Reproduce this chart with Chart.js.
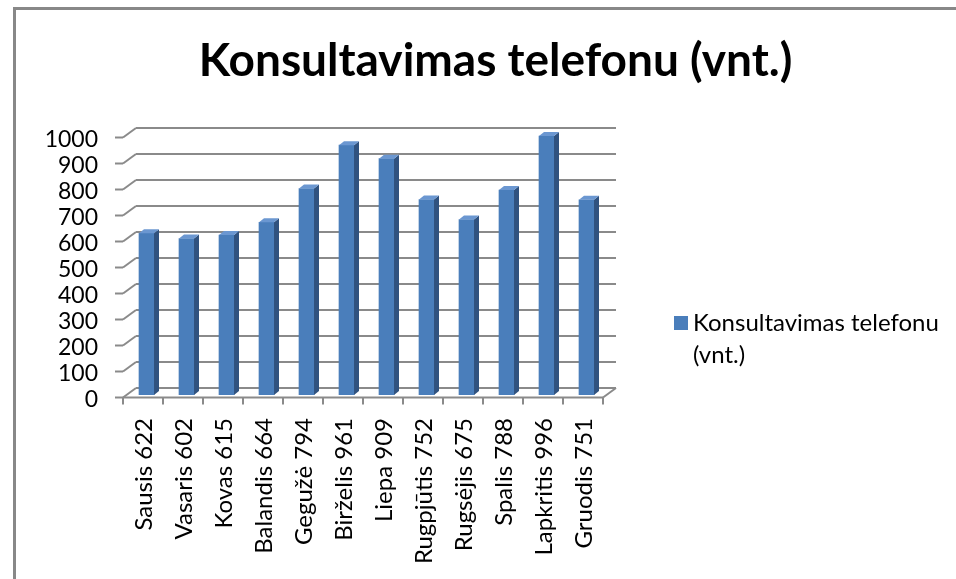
<!DOCTYPE html>
<html>
<head>
<meta charset="utf-8">
<script src="https://cdn.jsdelivr.net/npm/chart.js@4.4.1/dist/chart.umd.min.js"></script>
<style>
  html, body { margin: 0; padding: 0; background: #fff; }
  #wrap { position: relative; width: 956px; height: 579px; overflow: hidden; }
  #frame { position: absolute; left: 13px; top: 7px; right: -10px; bottom: -10px;
           border-left: 3px solid #888; border-top: 3px solid #888; }
  canvas { position: absolute; left: 0; top: 0; }
  #legend { position: absolute; left: 674px; top: 306px; font-family: Lato, sans-serif;
            font-size: 24px; line-height: 32px; color: #000; display: flex; }
  #legend .sw { width: 14px; height: 14px; background: #4a7ebb; margin-top: 10px; margin-right: 5px; flex: none; }
</style>
</head>
<body>
<div id="wrap">
  <div id="frame"></div>
  <canvas id="chart" width="956" height="579"></canvas>
  <div id="legend"><div class="sw"></div><div id="legendText"></div></div>
</div>
<script>
// Data (the values are printed in the category labels)
const MONTHS = ["Sausis", "Vasaris", "Kovas", "Balandis", "Gegužė", "Birželis",
                "Liepa", "Rugpjūtis", "Rugsėjis", "Spalis", "Lapkritis", "Gruodis"];
const VALUES = [622, 602, 615, 664, 794, 961, 909, 752, 675, 788, 996, 751];
const Y_MIN = 0;
const Y_MAX = 1000;
const Y_STEP = 100;
const TITLE = "Konsultavimas telefonu (vnt.)";
const LEGEND_LINES = ["Konsultavimas telefonu", "(vnt.)"];

const COLORS = {
  front: "#4a7ebb",
  side: "#30527f",
  top: "#6b97d1",
  grid: "#8a8a8a",
  text: "#000000",
};

// 3D offsets relative to the bar plane (chart area)
const FRONT = { dx: -3.5, dy: 2.5 };
const BACK = { dx: 9.5, dy: -7 };
const BAR_DEPTH = { dx: 5, dy: -4 };

document.getElementById("legendText").innerHTML = LEGEND_LINES.join("<br>");

const labels = MONTHS.map((m, i) => `${m} ${VALUES[i]}`);

const line = (ctx, x1, y1, x2, y2) => {
  ctx.beginPath();
  ctx.moveTo(x1, y1);
  ctx.lineTo(x2, y2);
  ctx.stroke();
};

const walls3d = {
  id: "walls3d",
  beforeDatasetsDraw(chart) {
    const { ctx, chartArea: a, scales: { y } } = chart;
    ctx.save();
    ctx.strokeStyle = COLORS.grid;
    ctx.lineWidth = 2;
    y.ticks.forEach(t => {
      const py = y.getPixelForValue(t.value);
      line(ctx, a.left + BACK.dx, py + BACK.dy, a.right + BACK.dx, py + BACK.dy);
      line(ctx, a.left + FRONT.dx, py + FRONT.dy, a.left + BACK.dx, py + BACK.dy);
      line(ctx, a.left + FRONT.dx - 8, py + FRONT.dy, a.left + FRONT.dx, py + FRONT.dy);
    });
    // right edge of the floor
    line(ctx, a.right + FRONT.dx, a.bottom + FRONT.dy, a.right + BACK.dx, a.bottom + BACK.dy);
    ctx.restore();
  },
  afterDatasetsDraw(chart) {
    const { ctx, chartArea: a, scales: { x } } = chart;
    ctx.save();
    chart.getDatasetMeta(0).data.forEach(bar => {
      const { x: bx, y: by, base, width } = bar.getProps(["x", "y", "base", "width"], true);
      const l = bx - width / 2, r = bx + width / 2;
      ctx.fillStyle = COLORS.side;
      ctx.beginPath();
      ctx.moveTo(r, by);
      ctx.lineTo(r + BAR_DEPTH.dx, by + BAR_DEPTH.dy);
      ctx.lineTo(r + BAR_DEPTH.dx, base + BAR_DEPTH.dy);
      ctx.lineTo(r, base);
      ctx.closePath();
      ctx.fill();
      ctx.fillStyle = COLORS.top;
      ctx.beginPath();
      ctx.moveTo(l, by);
      ctx.lineTo(l + BAR_DEPTH.dx, by + BAR_DEPTH.dy);
      ctx.lineTo(r + BAR_DEPTH.dx, by + BAR_DEPTH.dy);
      ctx.lineTo(r, by);
      ctx.closePath();
      ctx.fill();
    });
    // front edge of the floor and category tick marks
    ctx.strokeStyle = COLORS.grid;
    ctx.lineWidth = 2;
    const fy = a.bottom + FRONT.dy;
    line(ctx, a.left + FRONT.dx, fy, a.right + FRONT.dx, fy);
    for (let i = 0; i <= labels.length; i++) {
      const px = x.getPixelForValue(i - 0.5) + FRONT.dx;
      line(ctx, px, fy, px, fy + 7);
    }
    ctx.restore();
  },
};

new Chart(document.getElementById("chart"), {
  type: "bar",
  data: {
    labels: labels,
    datasets: [{
      label: TITLE,
      data: VALUES,
      backgroundColor: COLORS.front,
      barThickness: 15,
    }],
  },
  options: {
    responsive: false,
    animation: false,
    devicePixelRatio: 1,
    layout: { padding: { left: 35, right: 0, top: 0, bottom: 0 } },
    plugins: {
      legend: { display: false },
      tooltip: { enabled: false },
      title: {
        display: true,
        text: TITLE,
        color: COLORS.text,
        font: { family: "Lato", size: 46, weight: "bold", lineHeight: 1.2 },
        padding: { top: 34, bottom: 45.8 },
      },
    },
    scales: {
      x: {
        grid: { display: false, drawTicks: false },
        border: { display: false },
        ticks: {
          color: COLORS.text,
          font: { family: "Lato", size: 24 },
          minRotation: 90,
          maxRotation: 90,
          autoSkip: false,
          padding: 23,
          labelOffset: -2,
        },
        afterFit: (s) => { s.height = 184; },
      },
      y: {
        min: Y_MIN,
        max: Y_MAX,
        grid: { display: false, drawTicks: false },
        border: { display: false },
        ticks: {
          stepSize: Y_STEP,
          autoSkip: false,
          color: COLORS.text,
          font: { family: "Lato", size: 23 },
          padding: 28.5,
          labelOffset: 4.5,
          callback: (v) => String(v),
        },
        afterFit: (s) => { s.width = 91.5; },
      },
      // empty axis reserving the legend column on the right
      side: {
        type: "linear",
        position: "right",
        display: true,
        grid: { display: false, drawTicks: false },
        border: { display: false },
        ticks: { display: false },
        afterFit: (s) => { s.width = 349.5; },
      },
    },
  },
  plugins: [walls3d],
});
</script>
</body>
</html>
